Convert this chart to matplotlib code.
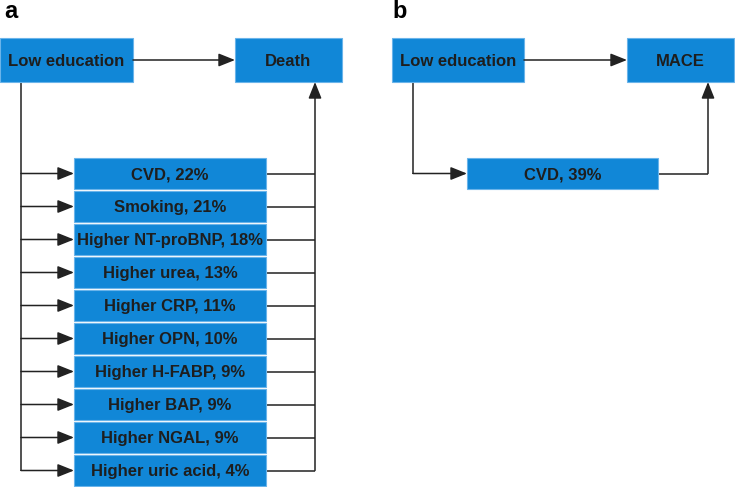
import matplotlib.pyplot as plt
from matplotlib.patches import Rectangle

plt.rcParams["font.family"] = ["Liberation Sans", "DejaVu Sans"]

# panel a
exposure_a = "Low education"
outcome_a = "Death"
mediators_a = ["CVD", "Smoking", "Higher NT-proBNP", "Higher urea", "Higher CRP",
               "Higher OPN", "Higher H-FABP", "Higher BAP", "Higher NGAL", "Higher uric acid"]
pct_a = [22, 21, 18, 13, 11, 10, 9, 9, 9, 4]

# panel b
exposure_b = "Low education"
outcome_b = "MACE"
mediators_b = ["CVD"]
pct_b = [39]

BOX_FC = "#1187d7"
BOX_EC = "#6ab4ea"
TXT = "#1e1e1e"
LINE = "#222222"


def box(ax, x0, y0, x1, y1, text, fs=12):
    ax.add_patch(Rectangle((x0, y0), x1 - x0, y1 - y0, facecolor=BOX_FC,
                           edgecolor=BOX_EC, linewidth=0.8, zorder=2))
    ax.text((x0 + x1) / 2, (y0 + y1) / 2 + 1, text, ha="center", va="center",
            fontsize=fs, fontweight="bold", color=TXT, zorder=3)


def arrow(ax, x0, y0, x1, y1):
    ax.annotate("", xy=(x1, y1), xytext=(x0, y0),
                arrowprops=dict(arrowstyle="-|>,head_length=1.0,head_width=0.4",
                                color=LINE, lw=1.1, shrinkA=0, shrinkB=0), zorder=4)


def line(ax, xs, ys):
    ax.plot(xs, ys, color=LINE, lw=1.1, solid_capstyle="butt", zorder=1)


fig = plt.figure(figsize=(7.35, 4.87), dpi=100)
ax = fig.add_axes([0, 0, 1, 1])
ax.set_xlim(0, 735)
ax.set_ylim(487, 0)
ax.axis("off")

# ---- panel a ----
ax.text(4, 12, "a", fontsize=17, fontweight="bold", color="black", va="center")
box(ax, 0, 38, 133, 82, exposure_a)
box(ax, 235, 38, 342, 82, outcome_a)
arrow(ax, 133, 60, 235, 60)

step, h, top = 33, 31, 158
centers = []
for i, (m, p) in enumerate(zip(mediators_a, pct_a)):
    y0 = top + i * step
    box(ax, 74, y0, 266, y0 + h, f"{m}, {p}%")
    yc = y0 + h / 2
    centers.append(yc)
    arrow(ax, 21, yc, 74, yc)
    line(ax, [266, 315], [yc, yc])
line(ax, [21, 21], [82, centers[-1]])
arrow(ax, 315, centers[-1], 315, 82)

# ---- panel b ----
ax.text(392, 12, "b", fontsize=17, fontweight="bold", color="black", va="center")
box(ax, 392, 38, 524, 82, exposure_b)
box(ax, 627, 38, 734, 82, outcome_b)
arrow(ax, 524, 60, 627, 60)
for m, p in zip(mediators_b, pct_b):
    box(ax, 467, 158, 658, 189, f"{m}, {p}%")
    line(ax, [413, 413], [82, 173.5])
    arrow(ax, 413, 173.5, 467, 173.5)
    line(ax, [658, 708], [173.5, 173.5])
    arrow(ax, 708, 173.5, 708, 82)

fig.savefig("out.png", dpi=100)
